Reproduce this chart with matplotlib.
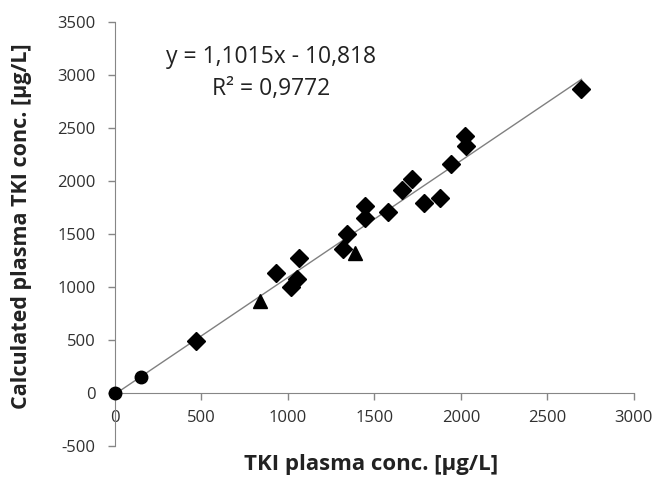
import numpy as np
import matplotlib.pyplot as plt

plt.rcParams['font.family'] = ['Open Sans', 'DejaVu Sans']
plt.rcParams['axes.unicode_minus'] = False

# measured vs calculated TKI plasma conc. [ug/L]
circle_x = [0, 150]
circle_y = [0, 155]
triangle_x = [840, 1390]
triangle_y = [870, 1320]
diamond_x = [470, 930, 1020, 1050, 1065, 1320, 1340, 1445, 1445, 1576,
             1657, 1719, 1786, 1879, 1942, 2023, 2027, 2697]
diamond_y = [495, 1132, 1000, 1078, 1270, 1362, 1500, 1764, 1648, 1711,
             1915, 2022, 1790, 1843, 2160, 2427, 2330, 2865]
slope, intercept = 1.1015, -10.818

fig = plt.figure(figsize=(6.56, 4.79), dpi=100)
ax = fig.add_axes([0.1753, 0.0689, 0.791, 0.885])

# trendline over data range
all_x = circle_x + triangle_x + diamond_x
xl = np.array([min(all_x), max(all_x)])
ax.plot(xl, slope * xl + intercept, color='#808080', lw=1.0, zorder=1)

ax.plot(diamond_x, diamond_y, ls='none', marker='D', ms=8.7, color='black', zorder=3)
ax.plot(triangle_x, triangle_y, ls='none', marker='^', ms=10, color='black', zorder=3)
ax.plot(circle_x, circle_y, ls='none', marker='o', ms=9, color='black', zorder=3, clip_on=False)

ax.set_xlim(0, 3000)
ax.set_ylim(-500, 3500)
ax.set_xticks(np.arange(0, 3001, 500))
ax.set_yticks(np.arange(-500, 3501, 500))

for s in ['top', 'right']:
    ax.spines[s].set_visible(False)
ax.spines['bottom'].set_position(('data', 0))
ax.spines['left'].set_color('#868686')
ax.spines['bottom'].set_color('#868686')
ax.tick_params(colors='#868686', labelcolor='#303030', labelsize=12, length=5, width=1)
ax.tick_params(axis='x', pad=7)
ax.tick_params(axis='y', pad=9)

ax.text(0.30, 0.918, 'y = 1,1015x - 10,818', transform=ax.transAxes,
        ha='center', va='center', fontsize=16.5, color='#222222')
ax.text(0.30, 0.842, 'R² = 0,9772', transform=ax.transAxes,
        ha='center', va='center', fontsize=16.5, color='#222222')

fig.text(0.565, 0.03, 'TKI plasma conc. [µg/L]', ha='center', va='center',
         fontsize=16, fontweight='bold', color='#222222')
fig.text(0.033, 0.528, 'Calculated plasma TKI conc. [µg/L]', ha='center', va='center',
         rotation=90, fontsize=15.5, fontweight='bold', color='#222222')

fig.savefig('out.png', dpi=100)
